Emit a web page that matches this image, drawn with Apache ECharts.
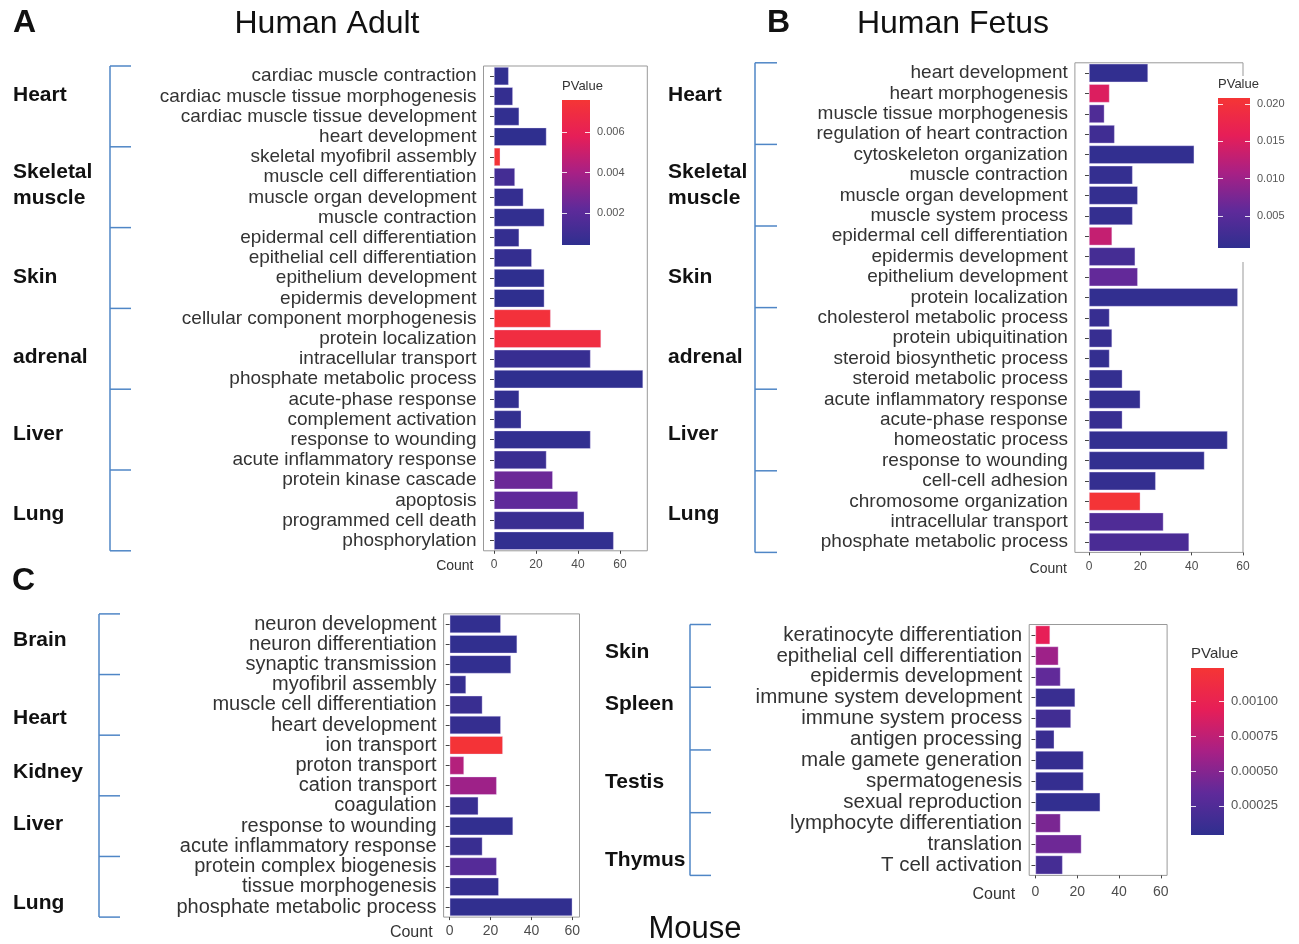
<!DOCTYPE html>
<html><head><meta charset="utf-8">
<script src="https://cdn.jsdelivr.net/npm/echarts@6/dist/echarts.min.js"></script>
<style>html,body{margin:0;padding:0;background:#fff}#c{width:1299px;height:944px}</style>
</head><body><div id="c"></div>
<script>
const FONT = '"Liberation Sans", Arial, Helvetica, sans-serif';

// ---------- Panel A: Human Adult ----------
const adultTerms = ['cardiac muscle contraction','cardiac muscle tissue morphogenesis','cardiac muscle tissue development','heart development',
  'skeletal myofibril assembly','muscle cell differentiation','muscle organ development','muscle contraction',
  'epidermal cell differentiation','epithelial cell differentiation','epithelium development','epidermis development',
  'cellular component morphogenesis','protein localization','intracellular transport','phosphate metabolic process',
  'acute-phase response','complement activation','response to wounding','acute inflammatory response',
  'protein kinase cascade','apoptosis','programmed cell death','phosphorylation'];
const adultCounts = [7,9,12,25, 3,10,14,24, 12,18,24,24, 27,51,46,71, 12,13,46,25, 28,40,43,57];
const adultPValues = [0.0005,0.0006,0.0005,0.0004, 0.0075,0.0012,0.0006,0.0005, 0.0006,0.0006,0.0004,0.0004,
  0.0073,0.0070,0.0007,0.0004, 0.0005,0.0005,0.0005,0.0008, 0.0025,0.0022,0.0008,0.0005];
const adultGroups = ['Heart','Skeletal\nmuscle','Skin','adrenal','Liver','Lung'];
const adultGroupSizes = [4,4,4,4,4,4];

// ---------- Panel B: Human Fetus ----------
const fetusTerms = ['heart development','heart morphogenesis','muscle tissue morphogenesis','regulation of heart contraction',
  'cytoskeleton organization','muscle contraction','muscle organ development','muscle system process',
  'epidermal cell differentiation','epidermis development','epithelium development','protein localization',
  'cholesterol metabolic process','protein ubiquitination','steroid biosynthetic process','steroid metabolic process',
  'acute inflammatory response','acute-phase response','homeostatic process','response to wounding',
  'cell-cell adhesion','chromosome organization','intracellular transport','phosphate metabolic process'];
const fetusCounts = [23,8,6,10, 41,17,19,17, 9,18,19,58, 8,9,8,13, 20,13,54,45, 26,20,29,39];
const fetusPValues = [0.0010,0.0150,0.0040,0.0025, 0.0010,0.0012,0.0012,0.0012, 0.0130,0.0030,0.0060,0.0010,
  0.0015,0.0015,0.0012,0.0012, 0.0012,0.0015,0.0010,0.0010, 0.0012,0.0205,0.0040,0.0035];
const fetusGroups = ['Heart','Skeletal\nmuscle','Skin','adrenal','Liver','Lung'];
const fetusGroupSizes = [4,4,4,4,4,4];

// ---------- Panel C: Mouse ----------
const mouseLeftTerms = ['neuron development','neuron differentiation','synaptic transmission',
  'myofibril assembly','muscle cell differentiation','heart development',
  'ion transport','proton transport','cation transport',
  'coagulation','response to wounding','acute inflammatory response',
  'protein complex biogenesis','tissue morphogenesis','phosphate metabolic process'];
const mouseLeftCounts = [25,33,30, 8,16,25, 26,7,23, 14,31,16, 23,24,60];
const mouseLeftPValues = [0.00006,0.00005,0.00006, 0.00008,0.00010,0.00008, 0.00122,0.00070,0.00060,
  0.00010,0.00006,0.00010, 0.00028,0.00008,0.00005];
const mouseLeftGroups = ['Brain','Heart','Kidney','Liver','Lung'];
const mouseLeftGroupSizes = [3,3,3,3,3];

const mouseRightTerms = ['keratinocyte differentiation','epithelial cell differentiation','epidermis development',
  'immune system development','immune system process','antigen processing',
  'male gamete generation','spermatogenesis','sexual reproduction',
  'lymphocyte differentiation','translation','T cell activation'];
const mouseRightCounts = [7,11,12, 19,17,9, 23,23,31, 12,22,13];
const mouseRightPValues = [0.00095,0.00060,0.00035, 0.00010,0.00015,0.00010, 0.00008,0.00008,0.00006,
  0.00045,0.00040,0.00018];
const mouseRightGroups = ['Skin','Spleen','Testis','Thymus'];
const mouseRightGroupSizes = [3,3,3,3];

// ---------- scales ----------
const countTicks = [0,20,40,60];
const adultPTicks = [0.002,0.004,0.006];
const fetusPTicks = [0.005,0.010,0.015,0.020];
const mousePTicks = [0.00025,0.00050,0.00075,0.00100];
const adultPRange = [0.0004,0.0076];
const fetusPRange = [0.0007,0.0208];
const mousePRange = [0.00004,0.00124];
const gradColors = ['#2F2F8F','#5F2A9A','#A82085','#E61E58','#F53535'];

// ---------- layout (annotation placement) ----------
const layout = {
  adultLabelY: [95, 185, 277, 357, 434, 514],
  fetusLabelY: [95, 185, 277, 357, 434, 514],
  mouseLeftLabelY: [640, 718, 772, 824, 903],
  mouseRightLabelY: [652, 704, 782, 860]
};

const chart = echarts.init(document.getElementById('c'));

function mainX(gi, min, max, fs, nameGap, namePad, labMargin) {
  return { type:'value', gridIndex:gi, min, max,
    axisLine:{show:false}, splitLine:{show:false},
    axisTick:{show:true, customValues:countTicks, length:3, lineStyle:{color:'#444'}},
    axisLabel:{customValues:countTicks, fontSize:fs, color:'#4d4d4d', margin:labMargin, fontFamily:FONT},
    name:'Count', nameLocation:'start', nameGap, nameMoveOverlap:false,
    nameTextStyle:{fontSize:fs+2, color:'#333', verticalAlign:'top', align:'right', padding:[namePad,0,0,0], fontFamily:FONT}
  };
}
function mainY(gi, terms, fs) {
  return { type:'category', gridIndex:gi, data:terms, inverse:true,
    axisLine:{show:false}, splitLine:{show:false},
    axisTick:{show:true, alignWithLabel:true, interval:0, length:4, lineStyle:{color:'#444'}},
    axisLabel:{fontSize:fs, color:'#333', margin:7, interval:0, fontFamily:FONT}
  };
}
function cbX(gi) { return {type:'category', gridIndex:gi, data:['p'], show:false}; }
function cbYLeft(gi, range, ticks, fs) {
  return {type:'value', gridIndex:gi, min:range[0], max:range[1], position:'left', z:5,
    axisLine:{show:false}, splitLine:{show:false}, axisLabel:{show:false},
    axisTick:{show:true, inside:true, length:5, customValues:ticks, lineStyle:{color:'rgba(255,255,255,0.85)'}},
    name:'PValue', nameLocation:'end', nameGap:7, nameMoveOverlap:false,
    nameTextStyle:{align:'left', fontSize:fs, color:'#333', fontFamily:FONT}};
}
function cbYRight(gi, range, ticks, fs, dec) {
  return {type:'value', gridIndex:gi, min:range[0], max:range[1], position:'right', z:5,
    axisLine:{show:false}, splitLine:{show:false},
    axisTick:{show:true, inside:true, length:5, customValues:ticks, lineStyle:{color:'rgba(255,255,255,0.85)'}},
    axisLabel:{customValues:ticks, fontSize:fs, color:'#555', margin:7, fontFamily:FONT,
      formatter:(v)=>Number(v).toFixed(dec)}};
}
function barSeries(ai, terms, counts, pvals) {
  return {type:'bar', xAxisIndex:ai, yAxisIndex:ai, barCategoryGap:'10%',
    data: terms.map((t,i)=>[counts[i], t, pvals[i]]), encode:{x:0, y:1},
    itemStyle:{borderColor:'rgba(235,225,255,0.6)', borderWidth:0.6}, silent:true};
}
function colorbarSeries(ai, range) {
  return {type:'custom', xAxisIndex:ai, yAxisIndex:ai, silent:true, z:2,
    data:[[0, range[1]]],
    renderItem:(params, api)=>{
      const top = api.coord([0, range[1]]);
      const bot = api.coord([0, range[0]]);
      const cs = params.coordSys;
      return {type:'rect', shape:{x:cs.x, y:top[1], width:cs.width, height:bot[1]-top[1]},
        style:{fill:new echarts.graphic.LinearGradient(0,1,0,0,
          gradColors.map((c,i)=>({offset:i/(gradColors.length-1), color:c})))}};
    }};
}
const frame = {show:true, borderColor:'#999', borderWidth:1, backgroundColor:'transparent', outerBoundsMode:'none'};

const option = {
  backgroundColor:'#fff',
  animation:false,
  textStyle:{fontFamily:FONT},
  grid:[
    Object.assign({left:483.5, top:66, width:163.8, height:484.8}, frame),          // 0 A
    {left:562, top:100, width:28, height:145, show:false, outerBoundsMode:'none'},      // 1 A colorbar
    Object.assign({left:1074.9, top:62.8, width:168.1, height:489.6}, frame),       // 2 B
    {left:1218, top:98, width:32, height:150, show:false, outerBoundsMode:'none'},      // 3 B colorbar
    Object.assign({left:443.6, top:613.9, width:135.9, height:303.2}, frame),       // 4 C left
    Object.assign({left:1029.2, top:624.5, width:137.9, height:250.9}, frame),      // 5 C right
    {left:1191, top:668, width:33, height:167, show:false, outerBoundsMode:'none'}      // 6 Mouse colorbar
  ],
  xAxis:[
    mainX(0, -5, 73, 12, 10, 8, 8),
    cbX(1),
    mainX(2, -5.5, 60, 12, 8, 10, 8),
    cbX(3),
    mainX(4, -3, 63.5, 14, 11, 7, 7),
    mainX(5, -3, 63, 14, 14, 11, 10),
    cbX(6)
  ],
  yAxis:[
    mainY(0, adultTerms, 19),
    cbYLeft(1, adultPRange, adultPTicks, 13),
    mainY(2, fetusTerms, 19),
    cbYLeft(3, fetusPRange, fetusPTicks, 13),
    mainY(4, mouseLeftTerms, 20),
    mainY(5, mouseRightTerms, 20.5),
    cbYLeft(6, mousePRange, mousePTicks, 15),
    cbYRight(1, adultPRange, adultPTicks, 11, 3),
    cbYRight(3, fetusPRange, fetusPTicks, 11, 3),
    cbYRight(6, mousePRange, mousePTicks, 13, 5)
  ],
  visualMap:[
    {type:'continuous', show:false, seriesIndex:0, dimension:2, min:adultPRange[0], max:adultPRange[1], inRange:{color:gradColors}},
    {type:'continuous', show:false, seriesIndex:2, dimension:2, min:fetusPRange[0], max:fetusPRange[1], inRange:{color:gradColors}},
    {type:'continuous', show:false, seriesIndex:[4,5], dimension:2, min:mousePRange[0], max:mousePRange[1], inRange:{color:gradColors}}
  ],
  series:[
    barSeries(0, adultTerms, adultCounts, adultPValues),
    colorbarSeries(1, adultPRange),
    barSeries(2, fetusTerms, fetusCounts, fetusPValues),
    colorbarSeries(3, fetusPRange),
    barSeries(4, mouseLeftTerms, mouseLeftCounts, mouseLeftPValues),
    barSeries(5, mouseRightTerms, mouseRightCounts, mouseRightPValues),
    colorbarSeries(6, mousePRange)
  ]
};
chart.setOption(option);

// ---------- annotations: brackets, group labels, titles ----------
const BRACKET = '#4F86C6';
function brackets(yAxisIndex, terms, sizes, groups, labelY, xLine, xTick, xLabel) {
  const els = [];
  const ys = terms.map(t => chart.convertToPixel({yAxisIndex}, t));
  const step = ys[1] - ys[0];
  const bounds = [ys[0] - step/2];
  let idx = 0;
  sizes.forEach(s => { idx += s; bounds.push(ys[idx-1] + step/2); });
  els.push({type:'line', shape:{x1:xLine, y1:bounds[0], x2:xLine, y2:bounds[bounds.length-1]},
    style:{stroke:BRACKET, lineWidth:1.5}, silent:true});
  bounds.forEach(b => els.push({type:'line', shape:{x1:xLine, y1:b, x2:xTick, y2:b},
    style:{stroke:BRACKET, lineWidth:1.5}, silent:true}));
  groups.forEach((g,i) => els.push({type:'text', x:xLabel, y:labelY[i], silent:true,
    style:{text:g, fontSize:21, fontWeight:'bold', fontFamily:FONT, fill:'#111', align:'left', verticalAlign:'middle', lineHeight:26}}));
  return els;
}
function txt(text, x, y, size, weight, align) {
  return {type:'text', x, y, silent:true,
    style:{text, fontSize:size, fontWeight:weight, fontFamily:FONT, fill:'#111', align, verticalAlign:'middle'}};
}
const graphics = [].concat(
  [{type:'rect', shape:{x:1210, y:76, width:89, height:186}, style:{fill:'#fff'}, z:1, silent:true}],
  brackets(0, adultTerms, adultGroupSizes, adultGroups, layout.adultLabelY, 110, 131, 13),
  brackets(2, fetusTerms, fetusGroupSizes, fetusGroups, layout.fetusLabelY, 755, 777, 668),
  brackets(4, mouseLeftTerms, mouseLeftGroupSizes, mouseLeftGroups, layout.mouseLeftLabelY, 99, 120, 13),
  brackets(5, mouseRightTerms, mouseRightGroupSizes, mouseRightGroups, layout.mouseRightLabelY, 690, 711, 605),
  [txt('A', 13, 23, 32, 'bold', 'left'),
   txt('Human Adult', 327, 24, 32, 'normal', 'center'),
   txt('B', 767, 23, 32, 'bold', 'left'),
   txt('Human Fetus', 953, 24, 32, 'normal', 'center'),
   txt('C', 12, 581, 32, 'bold', 'left'),
   txt('Mouse', 695, 929, 31, 'normal', 'center')]
);
chart.setOption({graphic: graphics});
</script></body></html>
